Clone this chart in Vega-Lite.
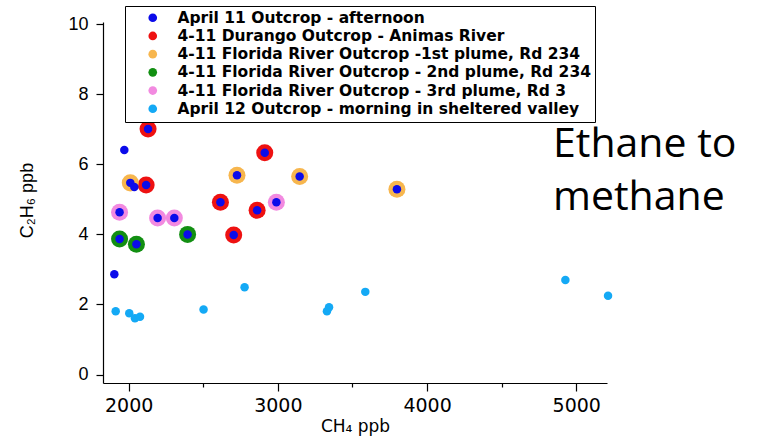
{
  "$schema": "https://vega.github.io/schema/vega-lite/v6.json",
  "width": 504,
  "height": 361,
  "autosize": "none",
  "padding": {"left": 103, "top": 22, "right": 155, "bottom": 60},
  "background": "white",
  "config": {"view": {"stroke": null}},
  "data": {"values": [
    {"ch4": 2130, "c2h6": 7.01, "series": "4-11 Durango Outcrop - Animas River"},
    {"ch4": 2117, "c2h6": 5.41, "series": "4-11 Durango Outcrop - Animas River"},
    {"ch4": 2615, "c2h6": 4.92, "series": "4-11 Durango Outcrop - Animas River"},
    {"ch4": 2704, "c2h6": 3.98, "series": "4-11 Durango Outcrop - Animas River"},
    {"ch4": 2912, "c2h6": 6.33, "series": "4-11 Durango Outcrop - Animas River"},
    {"ch4": 2861, "c2h6": 4.69, "series": "4-11 Durango Outcrop - Animas River"},
    {"ch4": 2011, "c2h6": 5.47, "series": "4-11 Florida River Outcrop -1st plume, Rd 234"},
    {"ch4": 2726, "c2h6": 5.69, "series": "4-11 Florida River Outcrop -1st plume, Rd 234"},
    {"ch4": 3146, "c2h6": 5.65, "series": "4-11 Florida River Outcrop -1st plume, Rd 234"},
    {"ch4": 3798, "c2h6": 5.29, "series": "4-11 Florida River Outcrop -1st plume, Rd 234"},
    {"ch4": 1939, "c2h6": 3.87, "series": "4-11 Florida River Outcrop - 2nd plume, Rd 234"},
    {"ch4": 2052, "c2h6": 3.72, "series": "4-11 Florida River Outcrop - 2nd plume, Rd 234"},
    {"ch4": 2395, "c2h6": 4.0, "series": "4-11 Florida River Outcrop - 2nd plume, Rd 234"},
    {"ch4": 1939, "c2h6": 4.63, "series": "4-11 Florida River Outcrop - 3rd plume, Rd 3"},
    {"ch4": 2194, "c2h6": 4.47, "series": "4-11 Florida River Outcrop - 3rd plume, Rd 3"},
    {"ch4": 2306, "c2h6": 4.47, "series": "4-11 Florida River Outcrop - 3rd plume, Rd 3"},
    {"ch4": 2990, "c2h6": 4.92, "series": "4-11 Florida River Outcrop - 3rd plume, Rd 3"},
    {"ch4": 1971, "c2h6": 6.41, "series": "April 11 Outcrop - afternoon"},
    {"ch4": 2038, "c2h6": 5.35, "series": "April 11 Outcrop - afternoon"},
    {"ch4": 1904, "c2h6": 2.86, "series": "April 11 Outcrop - afternoon"},
    {"ch4": 1913, "c2h6": 1.81, "series": "April 12 Outcrop - morning in sheltered valley"},
    {"ch4": 2004, "c2h6": 1.75, "series": "April 12 Outcrop - morning in sheltered valley"},
    {"ch4": 2042, "c2h6": 1.61, "series": "April 12 Outcrop - morning in sheltered valley"},
    {"ch4": 2076, "c2h6": 1.65, "series": "April 12 Outcrop - morning in sheltered valley"},
    {"ch4": 2502, "c2h6": 1.86, "series": "April 12 Outcrop - morning in sheltered valley"},
    {"ch4": 2777, "c2h6": 2.49, "series": "April 12 Outcrop - morning in sheltered valley"},
    {"ch4": 3329, "c2h6": 1.81, "series": "April 12 Outcrop - morning in sheltered valley"},
    {"ch4": 3343, "c2h6": 1.92, "series": "April 12 Outcrop - morning in sheltered valley"},
    {"ch4": 3586, "c2h6": 2.36, "series": "April 12 Outcrop - morning in sheltered valley"},
    {"ch4": 4927, "c2h6": 2.70, "series": "April 12 Outcrop - morning in sheltered valley"},
    {"ch4": 5213, "c2h6": 2.25, "series": "April 12 Outcrop - morning in sheltered valley"}
  ]},
  "layer": [
    {
      "transform": [{"filter": "datum.series !== 'April 11 Outcrop - afternoon' && datum.series !== 'April 12 Outcrop - morning in sheltered valley'"}],
      "mark": {"type": "circle", "opacity": 1, "size": 290},
      "encoding": {
        "x": {
          "field": "ch4", "type": "quantitative",
          "scale": {"domain": [1828, 5206], "nice": false, "zero": false},
          "axis": {
            "title": "CH₄ ppb",
            "values": [2000, 2500, 3000, 3500, 4000, 4500, 5000],
            "labelExpr": "datum.value % 1000 === 0 ? datum.value : ''",
            "grid": false,
            "domainColor": "black", "domainWidth": 1.2,
            "tickColor": "black", "tickWidth": 1.2,
            "tickSize": {"condition": {"test": "datum.value % 1000 === 0", "value": 8}, "value": 4},
            "labelFont": "DejaVu Sans", "labelFontSize": 19, "labelColor": "black",
            "labelPadding": 5,
            "titleFont": "DejaVu Sans", "titleFontSize": 17, "titleFontWeight": "normal", "titleColor": "black",
            "titlePadding": 3
          }
        },
        "y": {
          "field": "c2h6", "type": "quantitative",
          "scale": {"domain": [-0.24, 10.06], "nice": false, "zero": false},
          "axis": {
            "title": "C₂H₆ ppb",
            "values": [0, 2, 4, 6, 8, 10],
            "grid": false,
            "domainColor": "black", "domainWidth": 1.2,
            "tickColor": "black", "tickWidth": 1.2, "tickSize": 7,
            "labelFont": "Liberation Sans", "labelFontSize": 18, "labelColor": "black",
            "labelPadding": 8,
            "titleFont": "Liberation Sans", "titleFontSize": 18, "titleFontWeight": "normal", "titleColor": "black",
            "titleX": -76, "titleY": 178, "titleAngle": 270, "titleAlign": "center", "titleBaseline": "middle"
          }
        },
        "color": {
          "field": "series", "type": "nominal",
          "scale": {
            "domain": ["April 11 Outcrop - afternoon", "4-11 Durango Outcrop - Animas River", "4-11 Florida River Outcrop -1st plume, Rd 234", "4-11 Florida River Outcrop - 2nd plume, Rd 234", "4-11 Florida River Outcrop - 3rd plume, Rd 3", "April 12 Outcrop - morning in sheltered valley"],
            "range": ["#0b0bea", "#ee1111", "#f7b64e", "#128f12", "#f28ae0", "#14a9f5"]
          },
          "legend": {
            "title": null,
            "orient": "none", "legendX": 22, "legendY": -16,
            "strokeColor": "black", "fillColor": "white",
            "padding": 4, "symbolOffset": 16, "symbolType": "circle", "symbolSize": 75,
            "symbolStrokeWidth": 0,
            "labelFont": "DejaVu Sans", "labelFontWeight": "bold", "labelFontSize": 15.5, "labelColor": "black",
            "labelOffset": 17, "labelLimit": 600, "rowPadding": 1.2
          }
        }
      }
    },
    {
      "mark": {"type": "circle", "opacity": 1, "size": 72},
      "encoding": {
        "x": {"field": "ch4", "type": "quantitative", "axis": {"title": "CH₄ ppb"}},
        "y": {"field": "c2h6", "type": "quantitative", "axis": {"title": "C₂H₆ ppb"}},
        "color": {
          "condition": {"test": "datum.series === 'April 12 Outcrop - morning in sheltered valley'", "value": "#14a9f5"},
          "value": "#0b0bea"
        }
      }
    },
    {
      "data": {"values": [{"note": "Ethane to methane"}]},
      "mark": {"type": "text", "text": ["Ethane to", "methane"], "align": "left", "baseline": "alphabetic", "font": "Open Sans", "fontSize": 41, "lineHeight": 53, "color": "black"},
      "encoding": {
        "x": {"datum": 4844, "type": "quantitative", "axis": {"title": "CH₄ ppb"}},
        "y": {"datum": 6.22, "type": "quantitative", "axis": {"title": "C₂H₆ ppb"}}
      }
    }
  ]
}
